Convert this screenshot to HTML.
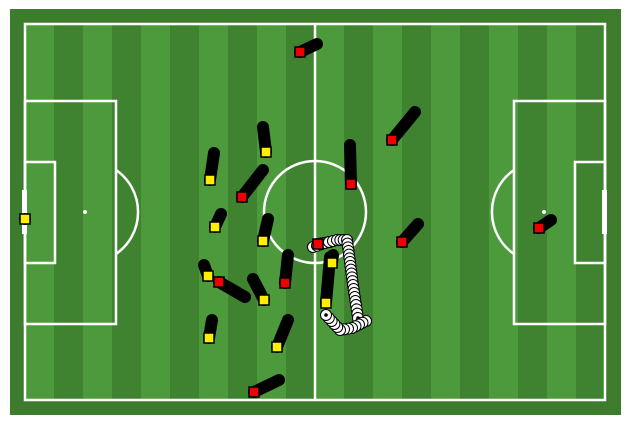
<!DOCTYPE html>
<html><head><meta charset="utf-8"><style>
html,body{margin:0;padding:0;background:#fff;}
svg{display:block;}
</style></head><body>
<svg id="pitch" width="630" height="425" viewBox="0 0 630 425" xmlns="http://www.w3.org/2000/svg">
<rect x="10" y="9" width="611" height="406" fill="#3e7c2d"/>
<g id="stripes"></g>
<g id="lines" fill="none" stroke="#fff" stroke-width="2.5">
<rect x="25" y="24" width="580" height="376"/>
<line x1="315" y1="24" x2="315" y2="400"/>
<circle cx="315" cy="212" r="51"/>
<rect x="25" y="101" width="91" height="223"/>
<rect x="25" y="162" width="30" height="101"/>
<path d="M116 170 A51 51 0 0 1 116 254"/>
<rect x="514" y="101" width="91" height="223"/>
<rect x="575" y="162" width="30" height="101"/>
<path d="M514 170 A51 51 0 0 0 514 254"/>
</g>
<rect x="22" y="190" width="5" height="44" fill="#fff"/>
<rect x="602" y="190" width="5" height="44" fill="#fff"/>
<circle cx="85" cy="212" r="2" fill="#fff"/>
<circle cx="544" cy="212" r="2" fill="#fff"/>
<circle cx="315" cy="212" r="1" fill="#fff"/>
<g id="trails"></g>
<g id="ball"></g>
<g id="markers"></g>
</svg>
<script>
const playerTeams = ['red','red','red','red','red','red','red','red','red','red',
  'yellow','yellow','yellow','yellow','yellow','yellow','yellow','yellow','yellow','yellow','yellow'];
const trailStartX = [317,263,245,288,350,415,418,551,279,330, 25,214,263,221,268,204,253,212,288,333,330];
const trailStartY = [44,170,297,255,145,112,224,220,380,242, 219,153,127,214,219,265,279,320,320,255,257];
const trailEndX = [300,242,219,285,351,392,402,539,254,318, 25,210,266,215,263,208,264,209,277,332,326];
const trailEndY = [52,197,282,283,184,140,242,228,392,244, 219,180,152,227,241,276,300,338,347,263,303];
const ballX = [313,325,337,347,350,353,356,358,361,366,352,340,326];
const ballY = [247,243,240,240,262,285,305,318,323,321,328,330,315];

const NS='http://www.w3.org/2000/svg';
const sg=document.getElementById('stripes');
for(let i=0;i<20;i++){
  const r=document.createElementNS(NS,'rect');
  
  
  r.setAttribute('x',25+i*29);r.setAttribute('y',24);r.setAttribute('width',29);r.setAttribute('height',376);
  r.setAttribute('fill',i%2===0?'#4d9a3c':'#3f8330');
  sg.appendChild(r);
}
const tg=document.getElementById('trails'), mg=document.getElementById('markers');
for(let i=0;i<playerTeams.length;i++){
  const l=document.createElementNS(NS,'line');
  
  
  l.setAttribute('x1',trailStartX[i]);l.setAttribute('y1',trailStartY[i]);
  l.setAttribute('x2',trailEndX[i]);l.setAttribute('y2',trailEndY[i]);
  l.setAttribute('stroke','#000');l.setAttribute('stroke-width','12');l.setAttribute('stroke-linecap','round');
  tg.appendChild(l);
  const m=document.createElementNS(NS,'rect');
  
  
  m.setAttribute('x',trailEndX[i]-5);m.setAttribute('y',trailEndY[i]-5);
  m.setAttribute('width',10);m.setAttribute('height',10);
  m.setAttribute('fill',playerTeams[i]==='red'?'#ee0000':'#ffee00');
  m.setAttribute('stroke','#000');m.setAttribute('stroke-width','1.5');
  mg.appendChild(m);
}
const bg=document.getElementById('ball');
let pts=[];
for(let i=0;i<ballX.length-1;i++){
  const dx=ballX[i+1]-ballX[i], dy=ballY[i+1]-ballY[i];
  const n=Math.max(1,Math.round(Math.hypot(dx,dy)/4));
  for(let k=0;k<n;k++) pts.push([ballX[i]+dx*k/n, ballY[i]+dy*k/n]);
}
pts.push([ballX[ballX.length-1],ballY[ballY.length-1]]);
pts.forEach(p=>{
  const c=document.createElementNS(NS,'circle');
  
  
  c.setAttribute('cx',p[0]);c.setAttribute('cy',p[1]);c.setAttribute('r',5.5);
  c.setAttribute('fill','#fff');c.setAttribute('stroke','#000');c.setAttribute('stroke-width','1');
  bg.appendChild(c);
  const d=document.createElementNS(NS,'circle');
  
  
  d.setAttribute('cx',p[0]);d.setAttribute('cy',p[1]);d.setAttribute('r',1.8);
  d.setAttribute('fill','#000');
  bg.appendChild(d);
});
</script>
</body></html>
